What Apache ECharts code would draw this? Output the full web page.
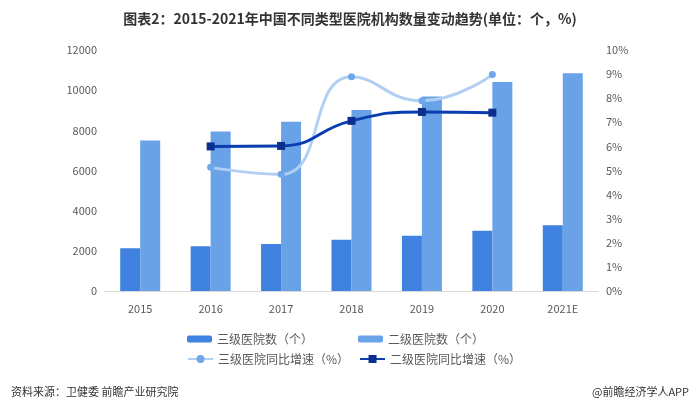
<!DOCTYPE html>
<html><head><meta charset="utf-8">
<script src="https://cdn.jsdelivr.net/npm/echarts@6/dist/echarts.min.js"></script>
<style>html,body{margin:0;padding:0;background:#fff}#c{width:700px;height:407px}</style>
</head><body><div id="c"></div>
<script>
const categories = ['2015','2016','2017','2018','2019','2020','2021E'];
const tertiaryCount = [2123, 2232, 2340, 2548, 2749, 2996, 3275];
const secondaryCount = [7494, 7944, 8422, 9017, 9687, 10404, 10848];
const tertiaryGrowth = [null, 5.13, 4.84, 8.89, 7.89, 8.98, null];
const secondaryGrowth = [null, 6.00, 6.02, 7.06, 7.43, 7.40, null];
const leftTicks = [0, 12000, 2000];
const rightTicks = [0, 10, 1];

const font = '"Noto Sans CJK SC", "Noto Sans", sans-serif';
const chart = echarts.init(document.getElementById('c'));
chart.setOption({
  animation: false,
  textStyle: {fontFamily: font},
  title: [{
    text: '图表2：2015-2021年中国不同类型医院机构数量变动趋势(单位：个，%)',
    left: 'center', top: 7,
    textStyle: {fontSize: 14, fontWeight: 'bold', color: '#333', fontFamily: font}
  }, {
    text: '资料来源：卫健委 前瞻产业研究院', left: 6, top: 381,
    textStyle: {fontSize: 11, fontWeight: 'normal', color: '#333', fontFamily: font}
  }, {
    text: '@前瞻经济学人APP', right: 6, top: 381,
    textStyle: {fontSize: 11, fontWeight: 'normal', color: '#333', fontFamily: font}
  }],
  legend: [{
    data: ['三级医院数（个）', '二级医院数（个）'],
    left: 182, top: 328, itemWidth: 25, itemHeight: 7, itemGap: 45,
    textStyle: {fontSize: 12, color: '#595959'}
  }, {
    data: ['三级医院同比增速（%）', '二级医院同比增速（%）'],
    left: 182, top: 348, itemWidth: 25, itemHeight: 10, itemGap: 10,
    textStyle: {fontSize: 12, color: '#595959'}
  }],
  grid: {left: 105, right: 102, top: 50, bottom: 116},
  xAxis: {
    type: 'category', data: categories,
    axisLine: {lineStyle: {color: '#d9d9d9'}},
    axisTick: {show: false},
    axisLabel: {color: '#595959', fontSize: 11, margin: 12}
  },
  yAxis: [{
    type: 'value', min: leftTicks[0], max: leftTicks[1], interval: leftTicks[2],
    splitLine: {show: false}, axisLine: {show: false}, axisTick: {show: false},
    axisLabel: {color: '#595959', fontSize: 11, margin: 8, formatter: v => String(v)}
  }, {
    type: 'value', min: rightTicks[0], max: rightTicks[1], interval: rightTicks[2],
    splitLine: {show: false}, axisLine: {show: false}, axisTick: {show: false},
    axisLabel: {color: '#595959', fontSize: 11, margin: 8, formatter: '{value}%'}
  }],
  series: [{
    name: '三级医院数（个）', type: 'bar', data: tertiaryCount,
    itemStyle: {color: '#3F82E0'}, barWidth: 20, barGap: '0%'
  }, {
    name: '二级医院数（个）', type: 'bar', data: secondaryCount,
    itemStyle: {color: '#6AA2E8'}, barWidth: 20
  }, {
    name: '三级医院同比增速（%）', type: 'line', yAxisIndex: 1, data: tertiaryGrowth,
    smooth: 0.5, symbol: 'circle', symbolSize: 7,
    lineStyle: {color: '#B0CFF3', width: 3},
    itemStyle: {color: '#6FA7EA'}
  }, {
    name: '二级医院同比增速（%）', type: 'line', yAxisIndex: 1, data: secondaryGrowth,
    smooth: 0.5, symbol: 'rect', symbolSize: 8,
    lineStyle: {color: '#0A3DB0', width: 3},
    itemStyle: {color: '#0A2F8F'}
  }]
});
</script></body></html>
